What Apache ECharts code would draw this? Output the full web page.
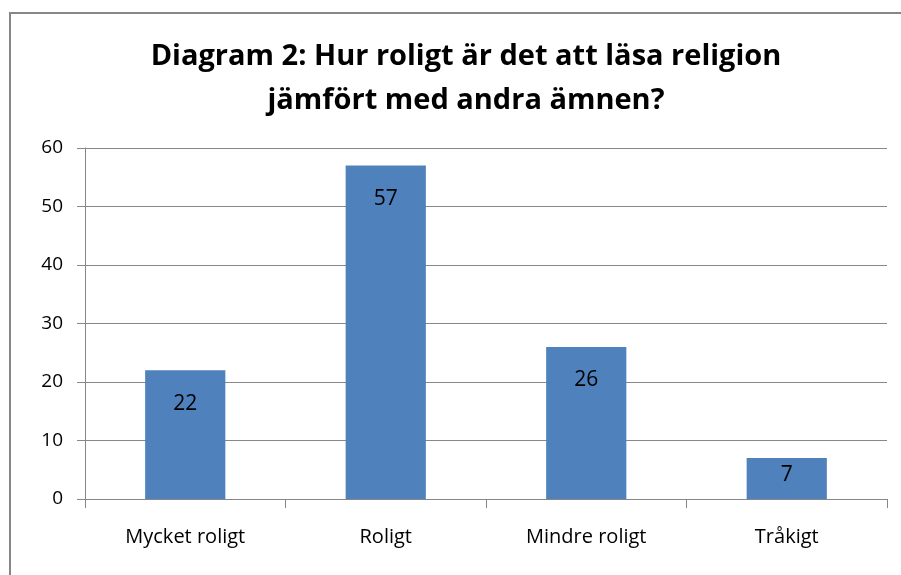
<!DOCTYPE html>
<html>
<head>
<meta charset="utf-8">
<script src="https://cdn.jsdelivr.net/npm/echarts@6/dist/echarts.min.js"></script>
<style>
  html, body { margin: 0; padding: 0; background: #fff; }
  #frame {
    position: absolute; left: 9px; top: 12px; width: 1000px; height: 700px;
    border-left: 2px solid #878787; border-top: 2px solid #878787;
  }
  #chart { position: absolute; left: 0; top: 0; width: 901px; height: 575px; }
</style>
</head>
<body>
<div id="frame"></div>
<div id="chart"></div>
<script>
// Kategorier och värden
const categories = ['Mycket roligt', 'Roligt', 'Mindre roligt', 'Tråkigt'];
const values = [22, 57, 26, 7];

window.addEventListener('DOMContentLoaded', function() {
    const myChart = echarts.init(document.getElementById('chart'));
    const font = '"Open Sans", "Noto Sans", sans-serif';

    const option = {
        animation: false,
        title: {
            text: 'Diagram 2: Hur roligt är det att läsa religion\njämfört med andra ämnen?',
            left: 461,
            top: 30,
            textAlign: 'center',
            textStyle: {
                fontFamily: font,
                fontSize: 29,
                fontWeight: 'bold',
                color: '#000',
                lineHeight: 44
            }
        },
        grid: {
            left: 85,
            right: 14,
            top: 148,
            bottom: 76
        },
        xAxis: {
            type: 'category',
            data: categories,
            axisLine: { lineStyle: { color: '#878787', width: 1 } },
            axisTick: { show: true, length: 9, lineStyle: { color: '#878787' } },
            axisLabel: {
                margin: 28,
                fontFamily: font,
                fontSize: 20,
                color: '#000'
            }
        },
        yAxis: {
            type: 'value',
            min: 0,
            max: 60,
            interval: 10,
            axisLine: { show: true, lineStyle: { color: '#878787', width: 1 } },
            axisTick: { show: true, length: 8, lineStyle: { color: '#878787' } },
            axisLabel: {
                margin: 22,
                fontFamily: font,
                fontSize: 19,
                color: '#000'
            },
            splitLine: { lineStyle: { color: '#878787', width: 1 } }
        },
        series: [
            {
                type: 'bar',
                data: values,
                barWidth: '40%',
                itemStyle: { color: '#4F81BD' },
                label: {
                    show: true,
                    position: 'insideTop',
                    distance: 23,
                    fontFamily: font,
                    fontSize: 21,
                    color: '#000'
                },
                // låga staplar: håll etiketten inne i stapeln
                labelLayout: function(params) {
                    const r = params.rect, l = params.labelRect;
                    if (l.y + l.height > r.y + r.height - 4) {
                        return {
                            x: r.x + r.width / 2,
                            y: r.y + r.height / 2 - 4,
                            align: 'center',
                            verticalAlign: 'middle'
                        };
                    }
                    return {};
                }
            }
        ]
    };

    myChart.setOption(option);
});
</script>
</body>
</html>
